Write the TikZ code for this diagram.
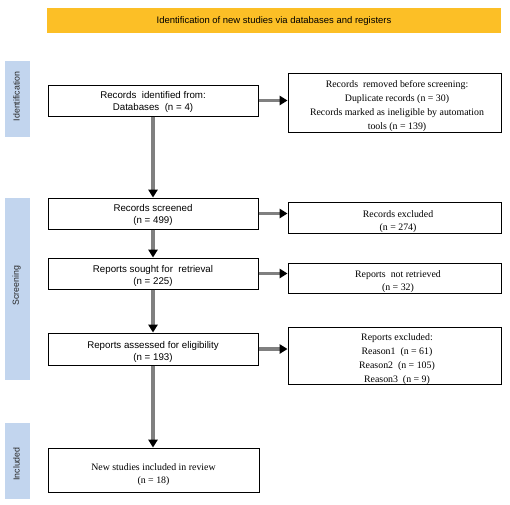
\documentclass[tikz,border=0pt]{standalone}
\usepackage{fontspec}
\setmainfont{Liberation Serif}
\newfontfamily\sansf{Liberation Sans}
\newfontfamily\seriff{Liberation Serif}
\usetikzlibrary{arrows.meta}
\definecolor{banner}{RGB}{252,191,38}
\definecolor{sidebar}{RGB}{194,213,238}
\definecolor{arrowgray}{RGB}{128,128,128}
\tikzset{
  box/.style={draw=black, line width=0.75pt, fill=white, inner sep=0pt},
  ltext/.style={align=center, inner sep=0pt, font=\sansf\fontsize{7.3}{9}\selectfont},
  rtext/.style={align=center, inner sep=0pt, font=\seriff\fontsize{7.4}{10.5}\selectfont},
  sidebox/.style={fill=sidebar, minimum width=18.75pt, inner sep=0pt},
  sidelabel/.style={rotate=90, inner sep=0pt, font=\sansf\fontsize{6.6}{8}\selectfont, text=black!85},
  flow/.style={draw=arrowgray, line width=2.6pt, shorten >=4pt, -{Triangle[color=black, length=6pt, width=7pt, sep=-4pt]}},
}
\begin{document}
\begin{tikzpicture}[x=0.75pt, y=-0.75pt]
\useasboundingbox (0,0) rectangle (510,504);
\fill[white] (0,0) rectangle (510,504);

% banner
\node[fill=banner, minimum width=340.5pt, minimum height=18.75pt, inner sep=0pt] (banner) at (274,20.5) {};
\node[ltext, font=\sansf\fontsize{7.1}{9}\selectfont] (bannert) at (274,21)
  {Identification of new studies via databases and registers};

% side bars
\node[sidebox, minimum height=57pt] (sideid) at (17.5,99) {};
\node[sidelabel] (sideidl) at (16.5,96.5) {Identification};
\node[sidebox, minimum height=136.5pt] (sidescr) at (17.5,289) {};
\node[sidelabel] (sidescrl) at (16.5,285.5) {Screening};
\node[sidebox, minimum height=57pt] (sideinc) at (17.5,461) {};
\node[sidelabel] (sideincl) at (16.5,464) {Included};

% left boxes
\node[box, minimum width=157.5pt, minimum height=23.25pt] (id) at (153,100.5) {};
\node[ltext] (idt) at (153,101.5) {Records\ \ identified from:\\Databases\ \ (n = 4)};
\node[box, minimum width=157.5pt, minimum height=23.25pt] (scr) at (153,213.5) {};
\node[ltext] (scrt) at (153,214.5) {Records screened\\(n = 499)};
\node[box, minimum width=157.5pt, minimum height=23.25pt] (sought) at (153,273.5) {};
\node[ltext] (soughtt) at (153,275.5) {Reports sought for\ \ retrieval\\(n = 225)};
\node[box, minimum width=157.5pt, minimum height=24pt] (assess) at (153,349) {};
\node[ltext] (assesst) at (153,351.5) {Reports assessed for eligibility\\(n = 193)};
\node[box, minimum width=158.25pt, minimum height=33pt] (incl) at (153.5,470) {};
\node[rtext, font=\seriff\fontsize{7.4}{10}\selectfont] (inclt) at (153.5,474.5) {New studies included in review\\(n = 18)};

% right boxes
\node[box, minimum width=159.75pt, minimum height=44.25pt] (rem) at (394.5,102.5) {};
\node[rtext] (remt) at (397,106) {Records\ \ removed before screening:\\Duplicate records (n = 30)\\Records marked as ineligible by automation\\tools (n = 139)};
\node[box, minimum width=159.75pt, minimum height=23.25pt] (exc) at (394.5,217.5) {};
\node[rtext, font=\seriff\fontsize{7.4}{10}\selectfont] (exct) at (398,221.5) {Records excluded\\(n = 274)};
\node[box, minimum width=159.75pt, minimum height=22.5pt] (notret) at (394.5,278) {};
\node[rtext, font=\seriff\fontsize{7.4}{10.2}\selectfont] (notrett) at (398,281.5) {Reports\ \ not retrieved\\(n = 32)};
\node[box, minimum width=159.75pt, minimum height=42.75pt] (rexc) at (394.5,355.5) {};
\node[rtext, font=\seriff\fontsize{7.4}{10.6}\selectfont] (rexct) at (397,359) {Reports excluded:\\Reason1\ \ (n = 61)\\Reason2\ \ (n = 105)\\Reason3\ \ (n = 9)};

% vertical arrows
\draw[flow] (id.south) -- (scr.north);
\draw[flow] (scr.south) -- (sought.north);
\draw[flow] (sought.south) -- (assess.north);
\draw[flow] (assess.south) -- (incl.north -| assess.south);

% horizontal arrows
\draw[flow] (id.east) -- (id.east -| rem.west);
\draw[flow] (scr.east) -- (scr.east -| exc.west);
\draw[flow] (sought.east) -- (sought.east -| notret.west);
\draw[flow] (assess.east) -- (assess.east -| rexc.west);
\end{tikzpicture}
\end{document}
